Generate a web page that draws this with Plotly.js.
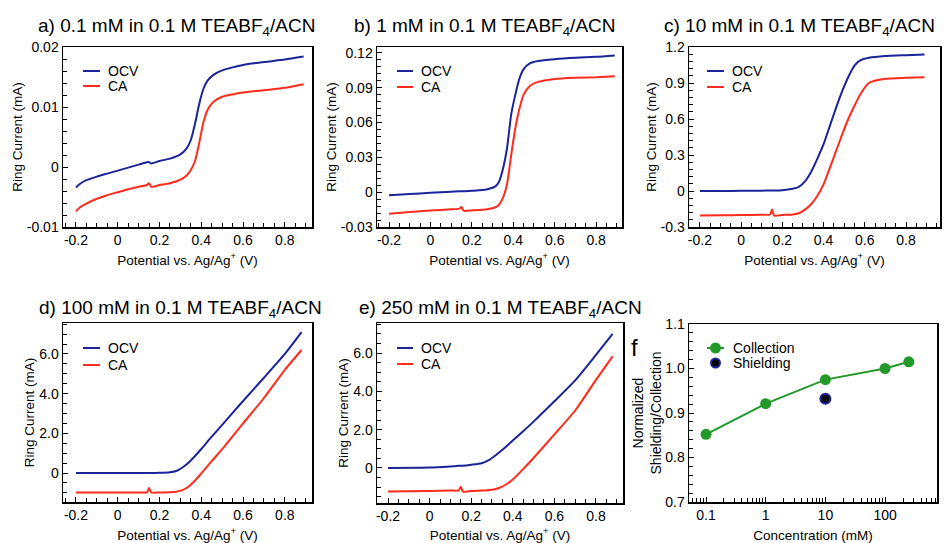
<!DOCTYPE html>
<html>
<head>
<meta charset="utf-8">
<script src="https://cdn.plot.ly/plotly-3.0.1.min.js"></script>
<style>html,body{margin:0;padding:0;background:#fff;}#chart{width:947px;height:543px;}</style>
</head>
<body>
<div id="chart"></div>
<script>
// ---------- DATA ----------
// a) 0.1 mM
const potA = [-0.2,-0.18,-0.15,-0.1,-0.05,0,0.05,0.1,0.14,0.15,0.16,0.2,0.25,0.3,0.33,0.35,0.37,0.39,0.41,0.43,0.46,0.5,0.55,0.6,0.7,0.8,0.89];
const ocvA = [-0.0034,-0.0028,-0.0022,-0.0016,-0.0011,-0.0006,-0.0001,0.0004,0.0008,0.0008,0.0006,0.0010,0.0014,0.0021,0.0031,0.0045,0.0072,0.0105,0.0130,0.0144,0.0154,0.0161,0.0166,0.0170,0.0175,0.0179,0.0184];
const caA  = [-0.0074,-0.0067,-0.0061,-0.0053,-0.0047,-0.0042,-0.0037,-0.0033,-0.0030,-0.0027,-0.0033,-0.0030,-0.0027,-0.0021,-0.0014,-0.0005,0.0010,0.0040,0.0074,0.0095,0.0109,0.0117,0.0121,0.0124,0.0128,0.0132,0.0138];
// b) 1 mM
const potB = [-0.2,-0.1,0,0.1,0.14,0.15,0.16,0.2,0.25,0.28,0.31,0.33,0.35,0.37,0.39,0.41,0.43,0.45,0.48,0.52,0.6,0.7,0.8,0.89];
const ocvB = [-0.0026,-0.0016,-0.0006,0.0003,0.0007,0.0008,0.0008,0.0012,0.0018,0.0028,0.0045,0.0085,0.020,0.038,0.067,0.084,0.098,0.106,0.111,0.113,0.1145,0.1157,0.1165,0.1177];
const caB  = [-0.0185,-0.0170,-0.0158,-0.0148,-0.0142,-0.0128,-0.0160,-0.0157,-0.0152,-0.0145,-0.0132,-0.0110,-0.0050,0.007,0.032,0.055,0.072,0.084,0.0915,0.095,0.0975,0.0985,0.0990,0.0998];
// c) 10 mM
const potC = [-0.2,-0.1,0,0.1,0.14,0.15,0.16,0.2,0.25,0.28,0.31,0.34,0.37,0.4,0.43,0.46,0.49,0.52,0.55,0.58,0.62,0.7,0.8,0.89];
const ocvC = [0,0,0.002,0.003,0.004,0.004,0.004,0.006,0.018,0.035,0.08,0.16,0.27,0.39,0.54,0.69,0.83,0.95,1.045,1.09,1.11,1.125,1.132,1.137];
const caC  = [-0.205,-0.203,-0.200,-0.198,-0.196,-0.155,-0.205,-0.200,-0.195,-0.185,-0.155,-0.11,-0.04,0.055,0.19,0.33,0.47,0.60,0.71,0.81,0.90,0.935,0.943,0.948];
// d) 100 mM
const potD = [-0.2,0,0.1,0.14,0.15,0.16,0.2,0.25,0.28,0.31,0.34,0.37,0.4,0.45,0.5,0.6,0.7,0.8,0.88];
const ocvD = [0,0,0,0,0,0,0.01,0.04,0.1,0.28,0.53,0.86,1.21,1.83,2.43,3.63,4.8,6.0,7.1];
const caD  = [-0.98,-0.98,-0.98,-0.97,-0.76,-0.98,-0.98,-0.97,-0.94,-0.86,-0.68,-0.38,-0.02,0.6,1.2,2.5,3.78,5.2,6.2];
// e) 250 mM
const potE = [-0.2,0,0.1,0.14,0.15,0.16,0.2,0.25,0.28,0.31,0.34,0.37,0.4,0.45,0.5,0.6,0.7,0.8,0.88];
const ocvE = [0,0.02,0.08,0.11,0.12,0.12,0.17,0.25,0.38,0.6,0.86,1.14,1.43,1.92,2.42,3.48,4.57,5.9,7.0];
const caE  = [-1.23,-1.2,-1.18,-1.17,-0.98,-1.24,-1.2,-1.18,-1.16,-1.12,-1.02,-0.85,-0.6,-0.06,0.52,1.75,3.0,4.6,5.83];
// f) normalized shielding / collection
const concColl = [0.1,1,10,100,250];
const valColl  = [0.852,0.921,0.975,1.0,1.015];
const concShield = [10];
const valShield  = [0.932];

// series names / legend labels
const seriesNames = ['OCV', 'CA'];
const seriesNamesF = ['Collection', 'Shielding'];

// tick labels
const potTickVals = [-0.2,0,0.2,0.4,0.6,0.8];
const potTickText = ['-0.2','0','0.2','0.4','0.6','0.8'];
const yTickValsA = [-0.01,0,0.01,0.02];
const yTickTextA = ['-0.01','0','0.01','0.02'];
const yTickValsB = [-0.03,0,0.03,0.06,0.09,0.12];
const yTickTextB = ['-0.03','0','0.03','0.06','0.09','0.12'];
const yTickValsC = [-0.3,0,0.3,0.6,0.9,1.2];
const yTickTextC = ['-0.3','0','0.3','0.6','0.9','1.2'];
const yTickValsDE = [0,2,4,6];
const yTickTextDE = ['0','2.0','4.0','6.0'];
const yTickValsF = [0.7,0.8,0.9,1.0,1.1];
const yTickTextF = ['0.7','0.8','0.9','1.0','1.1'];
const xTickValsF = [0.1,1,10,100];
const xTickTextF = ['0.1','1','10','100'];

const panelTitles = [
  'a) 0.1 mM in 0.1 M TEABF<sub>4</sub>/ACN',
  'b) 1 mM in 0.1 M TEABF<sub>4</sub>/ACN',
  'c) 10 mM in 0.1 M TEABF<sub>4</sub>/ACN',
  'd) 100 mM in 0.1 M TEABF<sub>4</sub>/ACN',
  'e) 250 mM in 0.1 M TEABF<sub>4</sub>/ACN'
];

// ---------- STYLE ----------
const BLUE = '#1b2499';
const RED = '#ff2b1c';
const GREEN = '#23992a';
const FONT = 'Liberation Sans, Arial, Helvetica, sans-serif';
const W = 947, H = 543;

function dom(x0, x1, y0, y1) {
  return { x: [x0 / W, x1 / W], y: [1 - y1 / H, 1 - y0 / H] };
}
const boxes = [
  dom(63, 312, 47, 227),
  dom(377, 622, 47, 227),
  dom(689, 940, 47, 227),
  dom(63, 312, 323, 502),
  dom(377, 623, 323, 503),
  dom(689, 937, 324, 502)
];

function axBase(extra) {
  return Object.assign({
    showline: true, linecolor: '#000', linewidth: 1.5, mirror: true,
    ticks: 'inside', ticklen: 5, tickwidth: 1, tickcolor: '#000',
    showgrid: false, zeroline: false, automargin: false,
    tickfont: { family: FONT, size: 14, color: '#000' }
  }, extra);
}
function xPot(i, range) {
  return axBase({
    domain: boxes[i].x, anchor: 'y' + (i ? i + 1 : ''), range: range,
    tickmode: 'array', tickvals: potTickVals, ticktext: potTickText,
    minor: { tickmode: 'linear', tick0: 0, dtick: 0.05, ticks: 'inside', ticklen: 4, tickcolor: '#000' },
    title: { text: 'Potential vs. Ag/Ag<sup>+</sup> (V)', font: { family: FONT, size: 13.5, color: '#000' }, standoff: 8 }
  });
}
function yRing(i, range, vals, text, minorStep) {
  return axBase({
    domain: boxes[i].y, anchor: 'x' + (i ? i + 1 : ''), range: range,
    tickmode: 'array', tickvals: vals, ticktext: text,
    minor: { tickmode: 'linear', tick0: 0, dtick: minorStep, ticks: 'inside', ticklen: 4, tickcolor: '#000' },
    title: { text: 'Ring Current (mA)', font: { family: FONT, size: 13.5, color: '#000' }, standoff: 1 }
  });
}

function pair(x, ocv, ca, i) {
  const xa = 'x' + (i ? i + 1 : ''), ya = 'y' + (i ? i + 1 : '');
  return [
    { x: x, y: ocv, name: seriesNames[0], mode: 'lines', xaxis: xa, yaxis: ya, showlegend: false,
      line: { color: BLUE, width: 2, shape: 'spline', smoothing: 0.6 } },
    { x: x, y: ca, name: seriesNames[1], mode: 'lines', xaxis: xa, yaxis: ya, showlegend: false,
      line: { color: RED, width: 2, shape: 'spline', smoothing: 0.6 } }
  ];
}

const traces = [].concat(
  pair(potA, ocvA, caA, 0),
  pair(potB, ocvB, caB, 1),
  pair(potC, ocvC, caC, 2),
  pair(potD, ocvD, caD, 3),
  pair(potE, ocvE, caE, 4),
  [
    { x: concColl, y: valColl, name: seriesNamesF[0], mode: 'lines+markers', xaxis: 'x6', yaxis: 'y6', showlegend: false,
      line: { color: GREEN, width: 2 }, marker: { color: GREEN, size: 11 } },
    { x: concShield, y: valShield, name: seriesNamesF[1], mode: 'markers', xaxis: 'x6', yaxis: 'y6', showlegend: false,
      marker: { color: '#000', size: 10, line: { color: BLUE, width: 2 } } }
  ]
);

// ---------- in-plot legends (key line + label) ----------
const shapes = [];
const annotations = [];
function px(x) { return x / W; }
function py(y) { return 1 - y / H; }
function keyLine(x0, x1, y, color) {
  shapes.push({ type: 'line', xref: 'paper', yref: 'paper', x0: px(x0), x1: px(x1), y0: py(y), y1: py(y),
    line: { color: color, width: 2 } });
}
function keyDot(cx, cy, r, fill, edge) {
  shapes.push({ type: 'circle', xref: 'paper', yref: 'paper', x0: px(cx - r), x1: px(cx + r), y0: py(cy + r), y1: py(cy - r),
    fillcolor: fill, line: { color: edge, width: edge === fill ? 0 : 2 } });
}
function keyText(x, y, t) {
  annotations.push({ text: t, xref: 'paper', yref: 'paper', x: px(x - 1), y: py(y), xanchor: 'left', yanchor: 'middle',
    showarrow: false, font: { family: FONT, size: 14, color: '#000' } });
}
// [line x0, line x1, text x, row1 y, row2 y]
const keyPos = [[83, 100, 107, 71, 86], [397, 413, 420, 71, 87], [707, 724, 731, 71, 87],
                [83, 100, 107, 348, 365], [397, 413, 420, 348, 364]];
keyPos.forEach(function (k) {
  keyLine(k[0], k[1], k[3], BLUE); keyText(k[2], k[3], seriesNames[0]);
  keyLine(k[0], k[1], k[4], RED);  keyText(k[2], k[4], seriesNames[1]);
});
keyLine(707, 724, 348, GREEN); keyDot(715.5, 348, 5.5, GREEN, GREEN); keyText(732, 348, seriesNamesF[0]);
keyDot(715.5, 363, 4.5, '#000', BLUE); keyText(732, 363, seriesNamesF[1]);

panelTitles.forEach(function (t, k) {
  const pos = [[36, 27], [352, 27], [662, 27], [37, 309], [357, 309]][k];
  annotations.push({ text: t, xref: 'paper', yref: 'paper', x: px(pos[0]), y: py(pos[1]),
    xanchor: 'left', yanchor: 'middle', showarrow: false,
    font: { family: FONT, size: 19, color: '#000' } });
});
annotations.push({ text: 'f', xref: 'paper', yref: 'paper', x: px(629), y: py(347),
  xanchor: 'left', yanchor: 'middle', showarrow: false, font: { family: FONT, size: 24, color: '#000' } });

const layout = {
  width: W, height: H, margin: { l: 0, r: 0, t: 0, b: 0 },
  paper_bgcolor: '#fff', plot_bgcolor: '#fff',
  font: { family: FONT, color: '#000' },
  showlegend: false,
  xaxis: xPot(0, [-0.262, 0.93]),
  yaxis: yRing(0, [-0.01, 0.02], yTickValsA, yTickTextA, 0.002),
  xaxis2: xPot(1, [-0.258, 0.925]),
  yaxis2: yRing(1, [-0.03, 0.125], yTickValsB, yTickTextB, 0.006),
  xaxis3: xPot(2, [-0.253, 0.965]),
  yaxis3: yRing(2, [-0.3, 1.2], yTickValsC, yTickTextC, 0.06),
  xaxis4: xPot(3, [-0.262, 0.93]),
  yaxis4: yRing(3, [-1.46, 7.56], yTickValsDE, yTickTextDE, 0.5),
  xaxis5: xPot(4, [-0.253, 0.93]),
  yaxis5: yRing(4, [-1.83, 7.57], yTickValsDE, yTickTextDE, 0.5),
  xaxis6: axBase({
    domain: boxes[5].x, anchor: 'y6', type: 'log', range: [-1.285, 2.87],
    tickmode: 'array', tickvals: xTickValsF, ticktext: xTickTextF,
    minor: { dtick: 'D1', ticks: 'inside', ticklen: 4, tickcolor: '#000' },
    title: { text: 'Concentration (mM)', font: { family: FONT, size: 13.5, color: '#000' }, standoff: 8 }
  }),
  yaxis6: axBase({
    domain: boxes[5].y, anchor: 'x6', range: [0.7, 1.1],
    tickmode: 'array', tickvals: yTickValsF, ticktext: yTickTextF,
    minor: { tickmode: 'linear', tick0: 0, dtick: 0.02, ticks: 'inside', ticklen: 4, tickcolor: '#000' },
    title: { text: 'Normalized<br>Shielding/Collection', font: { family: FONT, size: 14, color: '#000' }, standoff: 0 }
  }),
  shapes: shapes,
  annotations: annotations
};

Plotly.newPlot('chart', traces, layout, { staticPlot: true, displayModeBar: false });
</script>
</body>
</html>
